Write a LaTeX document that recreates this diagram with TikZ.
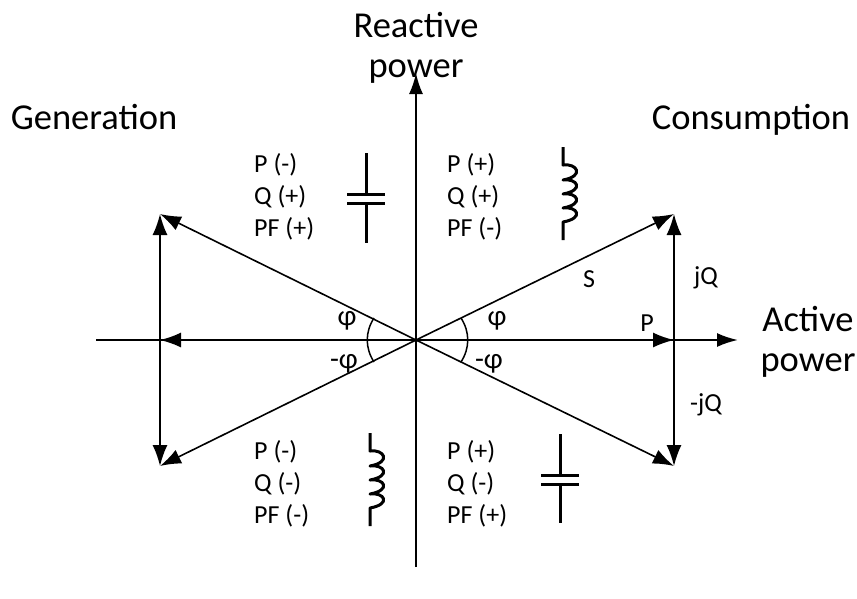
\documentclass[tikz,border=0pt]{standalone}
\usepackage{fontspec}
\setmainfont{Carlito}
\usetikzlibrary{arrows.meta}
\tikzset{
 x=1pt,y=-1pt,
 ax/.style={line width=2.2pt,-{Latex[length=21pt,width=14pt]}},
 vec/.style={line width=1.6pt,-{Latex[length=21pt,width=15pt]}},
 big/.style={font=\fontsize{36.5}{40}\selectfont,align=center,inner sep=0pt},
 lab/.style={font=\fontsize{26}{32}\selectfont,align=left,inner sep=0pt},
 phi/.style={font=\fontsize{29}{32}\selectfont,inner sep=0pt},
 sym/.style={line width=3pt},
 arcl/.style={line width=1.5pt},
}
\newcommand{\coil}[3]{% x, y top of coil, y of wire end
 \draw[sym,line join=round] (#1,#2-18) -- (#1,#2)
  .. controls (#1+14,#2-2) and (#1+22,#2+11) .. (#1,#2+15)
  .. controls (#1+14,#2+13) and (#1+22,#2+25) .. (#1,#2+29)
  .. controls (#1+14,#2+27) and (#1+22,#2+39) .. (#1,#2+43)
  .. controls (#1+14,#2+41) and (#1+22,#2+53) .. (#1,#2+57)
  -- (#1,#3);
}
\newcommand{\capac}[4]{% x, y top, y mid, y bottom
 \draw[sym] (#1,#2) -- (#1,#3-4) (#1-19,#3-4) -- (#1+19,#3-4)
  (#1-19,#3+5) -- (#1+19,#3+5) (#1,#3+5) -- (#1,#4);
}
\begin{document}
\begin{tikzpicture}
\useasboundingbox (0,0) rectangle (857,598);
\coordinate (O) at (416,340);
\coordinate (TR) at (674,214);
\coordinate (BR) at (674,466);
\coordinate (TL) at (160,214);
\coordinate (BL) at (160,466);
\coordinate (MR) at (674,340);
\coordinate (ML) at (160,340);
\coordinate (AE) at (738,340);
\coordinate (AW) at (96,340);
\coordinate (RN) at (416,73);
\coordinate (RS) at (416,567);
\draw[ax] (AW) -- (AE);
\draw[ax] (RS) -- (RN);
\draw[vec] (O) -- (TR);
\draw[vec] (O) -- (BR);
\draw[vec] (O) -- (TL);
\draw[vec] (O) -- (BL);
\draw[vec] (O) -- (MR);
\draw[vec] (O) -- (ML);
\draw[vec] (MR) -- (TR);
\draw[vec] (MR) -- (BR);
\draw[vec] (ML) -- (TL);
\draw[vec] (ML) -- (BL);
\draw[arcl] (461,318) .. controls (470,332) and (470,348) .. (461,362);
\draw[arcl] (374,318) .. controls (365,332) and (365,348) .. (374,362);
\node[big] (rp) at (416,48) {Reactive\\power};
\node[big,anchor=base] (gen) at (94,129) {Generation};
\node[big,anchor=base] (con) at (751,129) {Consumption};
\node[big] (ap) at (808,342) {Active\\power};
\node[lab,anchor=west] (q1) at (447,197) {P (+)\\Q (+)\\PF (-)};
\node[lab,anchor=west] (q2) at (254,197) {P (-)\\Q (+)\\PF (+)};
\node[lab,anchor=west] (q3) at (254,484) {P (-)\\Q (-)\\PF (-)};
\node[lab,anchor=west] (q4) at (447,484) {P (+)\\Q (-)\\PF (+)};
\node[lab] (s) at (589,279) {S};
\node[lab] (jq) at (706,278) {jQ};
\node[lab] (mjq) at (706,405) {-jQ};
\node[lab] (p) at (647,323) {P};
\node[phi] (f1) at (497,321) {φ};
\node[phi] (f2) at (489,364) {-φ};
\node[phi] (f3) at (347,321) {φ};
\node[phi] (f4) at (344,364) {-φ};
\coil{563}{165}{240}
\coil{370}{451}{526}
\capac{366}{153}{198}{243}
\capac{560}{434}{479}{523}
\end{tikzpicture}
\end{document}
